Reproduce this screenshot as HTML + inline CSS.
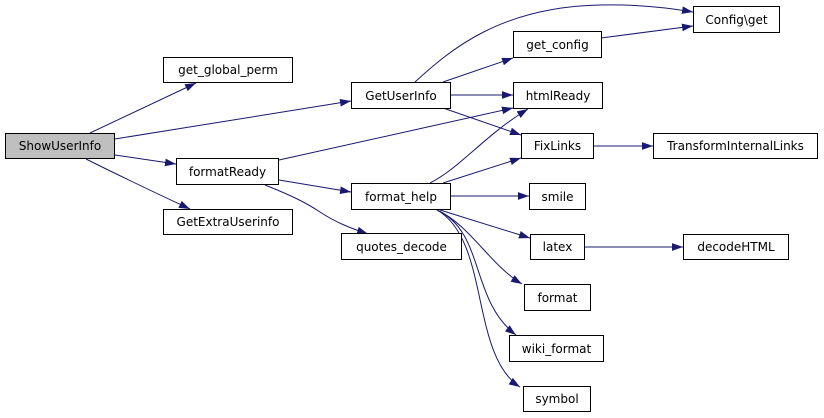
<!DOCTYPE html>
<html><head><meta charset="utf-8"><style>
html,body{margin:0;padding:0;background:#fff;}
svg{display:block;}
text{font-family:"DejaVu Sans","Liberation Sans",sans-serif;font-size:12px;fill:#000;}
</style></head><body>
<svg width="824" height="418" viewBox="0 0 824 418" xmlns="http://www.w3.org/2000/svg">
<defs>
<marker id="a" viewBox="0 0 10 7" refX="10" refY="3.5" markerWidth="11" markerHeight="8" markerUnits="userSpaceOnUse" orient="auto">
<path d="M0,0 L10,3.5 L0,7 z" fill="#191970"/>
</marker>
</defs>
<g fill="none" stroke="#191970" stroke-width="1" marker-end="url(#a)">
<path d="M90,133 L196,83"/>
<path d="M115,139 L351,101"/>
<path d="M115,155 L176,164"/>
<path d="M86,159 C120,176 160,195 190,209"/>
<path d="M415,82 C450,50 500,7 600,5 C640,4 670,8 693,12"/>
<path d="M443,82 L513,58"/>
<path d="M451,95 L513,95"/>
<path d="M443,108 L521,135"/>
<path d="M601,38 L693,26"/>
<path d="M279,160 L513,108"/>
<path d="M279,180 L351,192"/>
<path d="M265,185 C290,195 305,202 320,212 C335,222 350,228 368,234"/>
<path d="M430,183 C460,168 485,135 528,109"/>
<path d="M443,183 L521,158"/>
<path d="M451,196 L529,196"/>
<path d="M440,210 L530,238"/>
<path d="M437,210 C470,225 490,265 522,284"/>
<path d="M437,210 C485,232 470,300 516,335"/>
<path d="M437,210 C490,240 470,355 520,387"/>
<path d="M593,146 L653,146"/>
<path d="M584,247 L683,247"/>
</g>
<g stroke="#000" stroke-width="1">
<rect x="5.5" y="133.5" width="109" height="25" fill="#bfbfbf"/>
<rect x="163.5" y="57.5" width="129" height="25" fill="#fff"/>
<rect x="351.5" y="82.5" width="99" height="26" fill="#fff"/>
<rect x="176.5" y="158.5" width="102" height="26" fill="#fff"/>
<rect x="163.5" y="209.5" width="129" height="25" fill="#fff"/>
<rect x="693.5" y="6.5" width="86" height="26" fill="#fff"/>
<rect x="513.5" y="31.5" width="88" height="26" fill="#fff"/>
<rect x="513.5" y="82.5" width="89" height="26" fill="#fff"/>
<rect x="521.5" y="133.5" width="72" height="25" fill="#fff"/>
<rect x="653.5" y="133.5" width="164" height="25" fill="#fff"/>
<rect x="351.5" y="183.5" width="99" height="26" fill="#fff"/>
<rect x="341.5" y="233.5" width="120" height="26" fill="#fff"/>
<rect x="529.5" y="183.5" width="56" height="26" fill="#fff"/>
<rect x="530.5" y="234.5" width="54" height="25" fill="#fff"/>
<rect x="683.5" y="234.5" width="105" height="25" fill="#fff"/>
<rect x="524.5" y="284.5" width="66" height="26" fill="#fff"/>
<rect x="509.5" y="335.5" width="94" height="26" fill="#fff"/>
<rect x="523.5" y="386.5" width="67" height="25" fill="#fff"/>
</g>
<g text-anchor="middle">
<text x="60" y="150">ShowUserInfo</text>
<text x="228" y="74">get_global_perm</text>
<text x="401" y="100">GetUserInfo</text>
<text x="227.5" y="176">formatReady</text>
<text x="228" y="226">GetExtraUserinfo</text>
<text x="736.5" y="24">Config\get</text>
<text x="557.5" y="49">get_config</text>
<text x="558" y="100">htmlReady</text>
<text x="557.5" y="150">FixLinks</text>
<text x="735.5" y="150">TransformInternalLinks</text>
<text x="401" y="201">format_help</text>
<text x="401.5" y="251">quotes_decode</text>
<text x="557.5" y="201">smile</text>
<text x="557.5" y="251">latex</text>
<text x="736" y="251">decodeHTML</text>
<text x="557.5" y="302">format</text>
<text x="556.5" y="353">wiki_format</text>
<text x="557" y="403">symbol</text>
</g>
</svg>
</body></html>
